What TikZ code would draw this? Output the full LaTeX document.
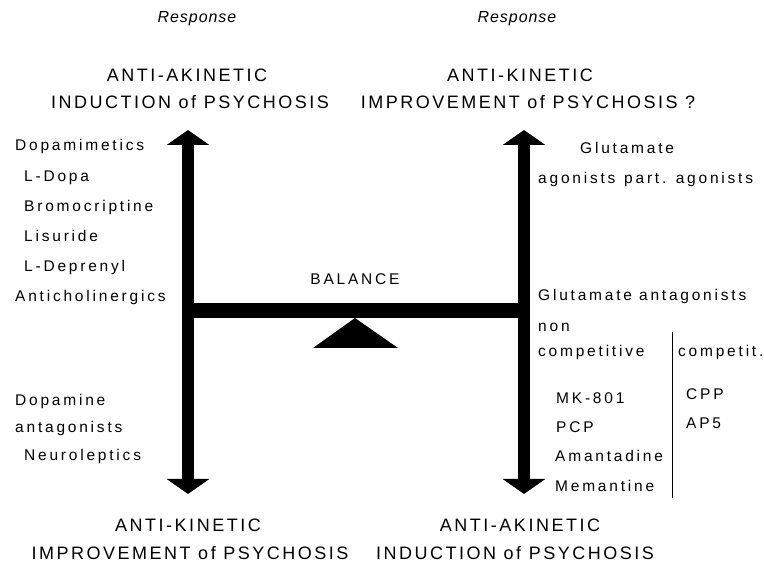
\documentclass[tikz,border=0pt]{standalone}
\usepackage{fontspec}
\setmainfont{Liberation Sans}
\newfontfamily\labelfont[LetterSpace=18]{Liberation Sans}
\newfontfamily\headfont[LetterSpace=14]{Liberation Sans}
\newfontfamily\respfont[LetterSpace=6]{Liberation Sans}
\usetikzlibrary{arrows.meta}
\begin{document}
\begin{tikzpicture}[
    x=1pt, y=-1pt,
    drug/.style={anchor=west, inner sep=0, font=\labelfont\fontsize{15.5}{16}\selectfont, text height=11pt, text depth=3pt},
    head/.style={inner sep=0, font=\headfont\fontsize{18}{20}\selectfont, text height=13pt, text depth=3pt},
    resp/.style={inner sep=0, font=\respfont\fontsize{16}{18}\selectfont\itshape},
    bigarrow/.style={line width=12pt, {Triangle[width=42pt,length=15pt]}-{Triangle[width=42pt,length=15pt]}}
  ]
  \useasboundingbox (0,0) rectangle (764,569);
  % response headings
  \node[resp] (respl) at (197,19) {Response};
  \node[resp] (respr) at (517,19) {Response};
  \node[head] (tl1) at (187,77) {ANTI-AKINETIC};
  \node[head] (tl2) at (190,104) {INDUCTION of PSYCHOSIS};
  \node[head] (tr1) at (520,77) {ANTI-KINETIC};
  \node[head] (tr2) at (528,104) {IMPROVEMENT of PSYCHOSIS ?};
  \node[head] (bl1) at (188,527) {ANTI-KINETIC};
  \node[head] (bl2) at (190,554) {IMPROVEMENT of PSYCHOSIS};
  \node[head] (br1) at (520,527) {ANTI-AKINETIC};
  \node[head] (br2) at (515,554) {INDUCTION of PSYCHOSIS};
  % the balance
  \coordinate (ltop) at (188,130);
  \coordinate (lbot) at (188,494);
  \coordinate (rtop) at (524,130);
  \coordinate (rbot) at (524,494);
  \coordinate (barl) at (182,311);
  \coordinate (barr) at (530,311);
  \draw[bigarrow] (lbot) -- (ltop);
  \draw[bigarrow] (rbot) -- (rtop);
  \draw[line width=15pt] (barl) -- (barr);
  \coordinate (pivot) at (355,318);
  \fill (pivot) -- (398,348) -- (313,348) -- cycle;
  \node[drug, anchor=center] (bal) at (355,281) {BALANCE};
  % left side
  \node[drug] (dmim) at (15,147) {Dopamimetics};
  \node[drug] (ldopa) at (24,178) {L-Dopa};
  \node[drug] (bromo) at (24,208) {Bromocriptine};
  \node[drug] (lisu) at (24,238) {Lisuride};
  \node[drug] (ldep) at (24,268) {L-Deprenyl};
  \node[drug] (antic) at (15,298) {Anticholinergics};
  \node[drug] (dant1) at (15,402) {Dopamine};
  \node[drug] (dant2) at (15,429) {antagonists};
  \node[drug] (neuro) at (24,457) {Neuroleptics};
  % right side
  \node[drug] (glu) at (580,150) {Glutamate};
  \node[drug] (agon) at (538,180) {agonists};
  \node[drug] (pagon) at (624,180) {part. agonists};
  \node[drug] (gant) at (538,297) {Glutamate antagonists};
  \node[drug] (non) at (538,328) {non};
  \node[drug] (ncomp) at (538,353) {competitive};
  \node[drug] (comp) at (678,353) {competit.};
  \node[drug] (mk) at (556,400) {MK-801};
  \node[drug] (pcp) at (556,429) {PCP};
  \node[drug] (aman) at (555,458) {Amantadine};
  \node[drug] (mema) at (555,488) {Memantine};
  \node[drug] (cpp) at (686,396) {CPP};
  \node[drug] (ap) at (686,425) {AP5};
  \coordinate (septop) at (672,332);
  \coordinate (sepbot) at (672,498);
  \draw[line width=1pt] (septop) -- (sepbot);
\end{tikzpicture}
\end{document}
